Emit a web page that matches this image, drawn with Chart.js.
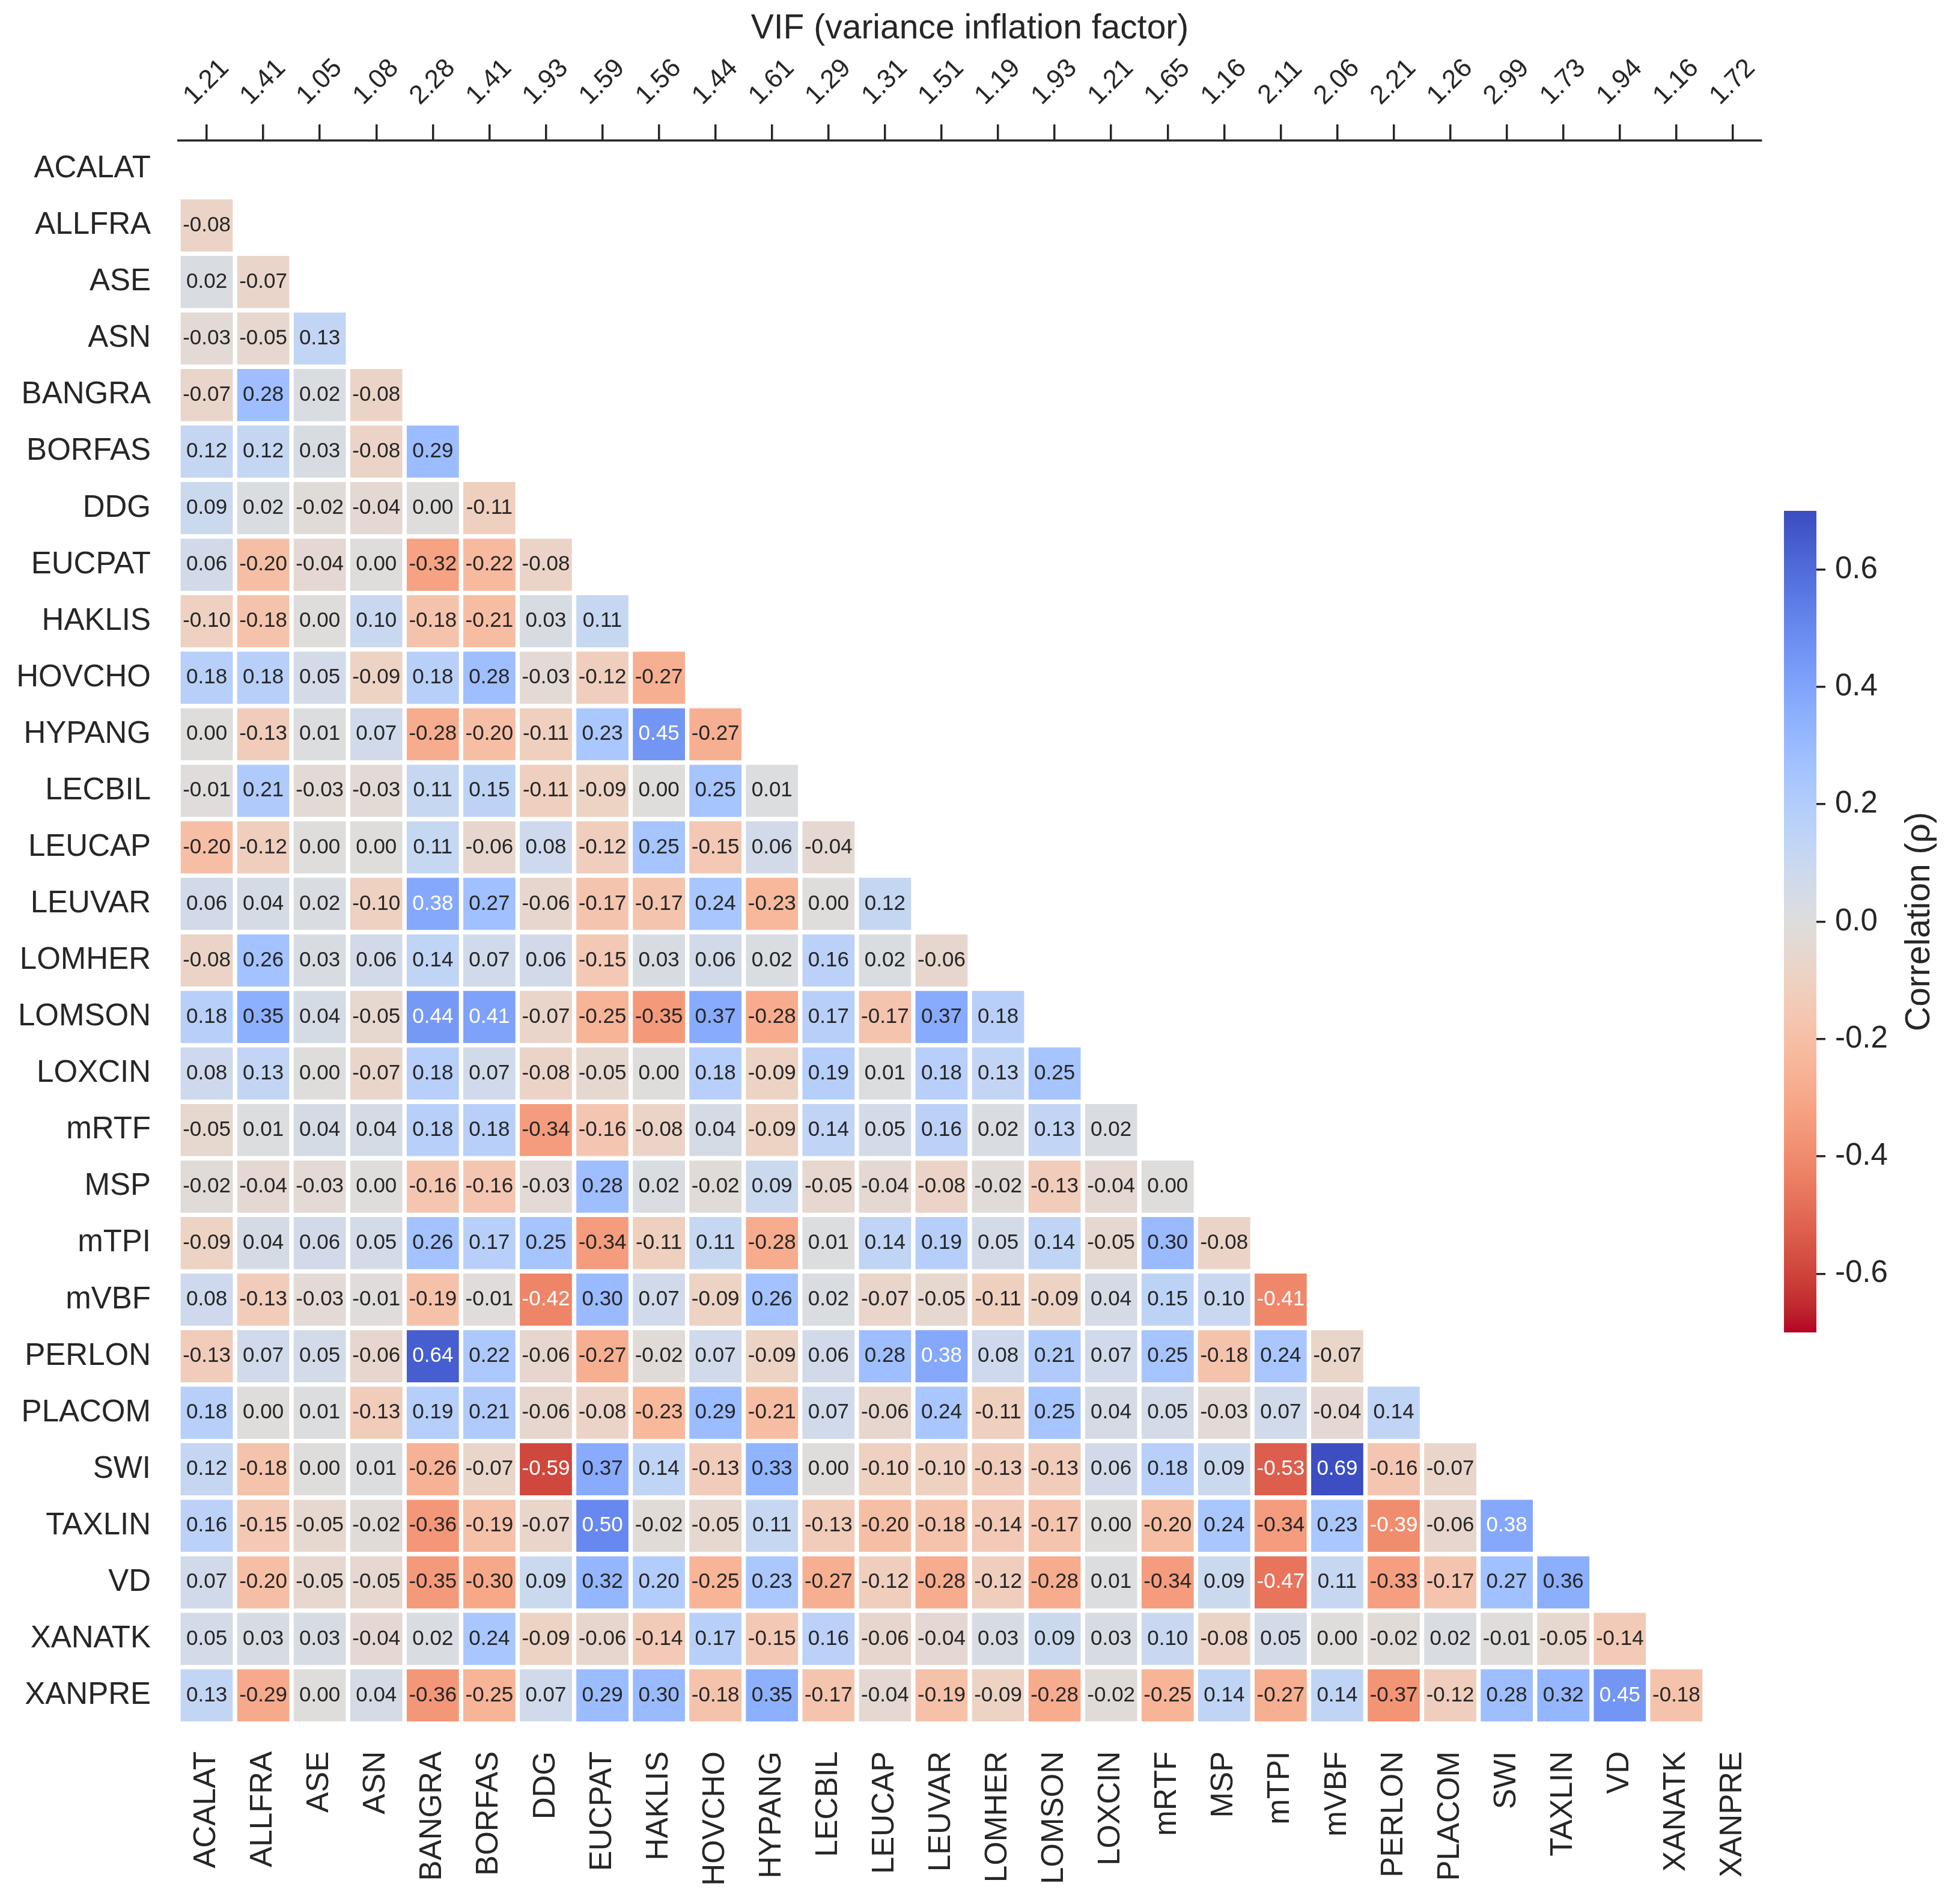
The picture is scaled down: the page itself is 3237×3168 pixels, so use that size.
<!DOCTYPE html>
<html>
<head>
<meta charset="utf-8">
<title>Correlation heatmap with VIF</title>
<script src="https://cdn.jsdelivr.net/npm/chart.js@4.4.1/dist/chart.umd.min.js"></script>
<style>
  html, body { margin: 0; padding: 0; background: #fff; overflow: hidden; }
  #main { position: absolute; left: 0; top: 0; width: 3237px; height: 3168px; }
  #cbar { position: absolute; left: 2900px; top: 0; width: 337px; height: 3168px; }
</style>
</head>
<body>
<div id="main"><canvas id="heat"></canvas></div>
<div id="cbar"><canvas id="scale"></canvas></div>
<script>
// variables, in matrix order
const VARS = ["ACALAT", "ALLFRA", "ASE", "ASN", "BANGRA", "BORFAS", "DDG", "EUCPAT", "HAKLIS",
  "HOVCHO", "HYPANG", "LECBIL", "LEUCAP", "LEUVAR", "LOMHER", "LOMSON", "LOXCIN", "mRTF", "MSP",
  "mTPI", "mVBF", "PERLON", "PLACOM", "SWI", "TAXLIN", "VD", "XANATK", "XANPRE"];

// variance inflation factor per variable (top axis)
const VIF = [1.21, 1.41, 1.05, 1.08, 2.28, 1.41, 1.93, 1.59, 1.56, 1.44, 1.61, 1.29, 1.31, 1.51,
  1.19, 1.93, 1.21, 1.65, 1.16, 2.11, 2.06, 2.21, 1.26, 2.99, 1.73, 1.94, 1.16, 1.72];

// lower triangle of the correlation matrix, one array per row
const R_ALLFRA = [-0.08];
const R_ASE = [0.02, -0.07];
const R_ASN = [-0.03, -0.05, 0.13];
const R_BANGRA = [-0.07, 0.28, 0.02, -0.08];
const R_BORFAS = [0.12, 0.12, 0.03, -0.08, 0.29];
const R_DDG = [0.09, 0.02, -0.02, -0.04, 0.00, -0.11];
const R_EUCPAT = [0.06, -0.20, -0.04, 0.00, -0.32, -0.22, -0.08];
const R_HAKLIS = [-0.10, -0.18, 0.00, 0.10, -0.18, -0.21, 0.03, 0.11];
const R_HOVCHO = [0.18, 0.18, 0.05, -0.09, 0.18, 0.28, -0.03, -0.12, -0.27];
const R_HYPANG = [0.00, -0.13, 0.01, 0.07, -0.28, -0.20, -0.11, 0.23, 0.45, -0.27];
const R_LECBIL = [-0.01, 0.21, -0.03, -0.03, 0.11, 0.15, -0.11, -0.09, 0.00, 0.25, 0.01];
const R_LEUCAP = [-0.20, -0.12, 0.00, 0.00, 0.11, -0.06, 0.08, -0.12, 0.25, -0.15, 0.06, -0.04];
const R_LEUVAR = [0.06, 0.04, 0.02, -0.10, 0.38, 0.27, -0.06, -0.17, -0.17, 0.24, -0.23, 0.00, 0.12];
const R_LOMHER = [-0.08, 0.26, 0.03, 0.06, 0.14, 0.07, 0.06, -0.15, 0.03, 0.06, 0.02, 0.16, 0.02, -0.06];
const R_LOMSON = [0.18, 0.35, 0.04, -0.05, 0.44, 0.41, -0.07, -0.25, -0.35, 0.37, -0.28, 0.17, -0.17,
  0.37, 0.18];
const R_LOXCIN = [0.08, 0.13, 0.00, -0.07, 0.18, 0.07, -0.08, -0.05, 0.00, 0.18, -0.09, 0.19, 0.01,
  0.18, 0.13, 0.25];
const R_MRTF = [-0.05, 0.01, 0.04, 0.04, 0.18, 0.18, -0.34, -0.16, -0.08, 0.04, -0.09, 0.14, 0.05,
  0.16, 0.02, 0.13, 0.02];
const R_MSP = [-0.02, -0.04, -0.03, 0.00, -0.16, -0.16, -0.03, 0.28, 0.02, -0.02, 0.09, -0.05, -0.04,
  -0.08, -0.02, -0.13, -0.04, 0.00];
const R_MTPI = [-0.09, 0.04, 0.06, 0.05, 0.26, 0.17, 0.25, -0.34, -0.11, 0.11, -0.28, 0.01, 0.14,
  0.19, 0.05, 0.14, -0.05, 0.30, -0.08];
const R_MVBF = [0.08, -0.13, -0.03, -0.01, -0.19, -0.01, -0.42, 0.30, 0.07, -0.09, 0.26, 0.02, -0.07,
  -0.05, -0.11, -0.09, 0.04, 0.15, 0.10, -0.41];
const R_PERLON = [-0.13, 0.07, 0.05, -0.06, 0.64, 0.22, -0.06, -0.27, -0.02, 0.07, -0.09, 0.06, 0.28,
  0.38, 0.08, 0.21, 0.07, 0.25, -0.18, 0.24, -0.07];
const R_PLACOM = [0.18, 0.00, 0.01, -0.13, 0.19, 0.21, -0.06, -0.08, -0.23, 0.29, -0.21, 0.07, -0.06,
  0.24, -0.11, 0.25, 0.04, 0.05, -0.03, 0.07, -0.04, 0.14];
const R_SWI = [0.12, -0.18, 0.00, 0.01, -0.26, -0.07, -0.59, 0.37, 0.14, -0.13, 0.33, 0.00, -0.10,
  -0.10, -0.13, -0.13, 0.06, 0.18, 0.09, -0.53, 0.69, -0.16, -0.07];
const R_TAXLIN = [0.16, -0.15, -0.05, -0.02, -0.36, -0.19, -0.07, 0.50, -0.02, -0.05, 0.11, -0.13,
  -0.20, -0.18, -0.14, -0.17, 0.00, -0.20, 0.24, -0.34, 0.23, -0.39, -0.06, 0.38];
const R_VD = [0.07, -0.20, -0.05, -0.05, -0.35, -0.30, 0.09, 0.32, 0.20, -0.25, 0.23, -0.27, -0.12,
  -0.28, -0.12, -0.28, 0.01, -0.34, 0.09, -0.47, 0.11, -0.33, -0.17, 0.27, 0.36];
const R_XANATK = [0.05, 0.03, 0.03, -0.04, 0.02, 0.24, -0.09, -0.06, -0.14, 0.17, -0.15, 0.16, -0.06,
  -0.04, 0.03, 0.09, 0.03, 0.10, -0.08, 0.05, 0.00, -0.02, 0.02, -0.01, -0.05, -0.14];
const R_XANPRE = [0.13, -0.29, 0.00, 0.04, -0.36, -0.25, 0.07, 0.29, 0.30, -0.18, 0.35, -0.17, -0.04,
  -0.19, -0.09, -0.28, -0.02, -0.25, 0.14, -0.27, 0.14, -0.37, -0.12, 0.28, 0.32, 0.45, -0.18];

const LOWER = [[], R_ALLFRA, R_ASE, R_ASN, R_BANGRA, R_BORFAS, R_DDG, R_EUCPAT, R_HAKLIS, R_HOVCHO,
  R_HYPANG, R_LECBIL, R_LEUCAP, R_LEUVAR, R_LOMHER, R_LOMSON, R_LOXCIN, R_MRTF, R_MSP, R_MTPI,
  R_MVBF, R_PERLON, R_PLACOM, R_SWI, R_TAXLIN, R_VD, R_XANATK, R_XANPRE];

// colour scale limits and colorbar ticks
const VMIN = -0.7;
const VMAX = 0.7;
const CBAR_TICKS = [-0.6, -0.4, -0.2, 0.0, 0.2, 0.4, 0.6];

// coolwarm control points (blue -> grey -> red); used reversed so positive is blue
const COOLWARM = [
  [59, 76, 192], [68, 90, 204], [77, 104, 215], [87, 117, 225], [98, 130, 234], [108, 142, 241],
  [119, 154, 247], [130, 165, 251], [141, 176, 254], [152, 185, 255], [163, 194, 255], [174, 201, 253],
  [184, 208, 249], [194, 213, 244], [204, 217, 238], [213, 219, 230], [221, 221, 221], [229, 216, 209],
  [236, 211, 197], [241, 204, 185], [245, 196, 173], [247, 187, 160], [247, 177, 148], [247, 166, 135],
  [244, 154, 123], [241, 141, 111], [236, 127, 99], [229, 112, 88], [222, 96, 77], [213, 80, 66],
  [203, 62, 56], [192, 40, 47], [180, 4, 38]];

const INK = "#262626";
const FONT = '"Liberation Sans", Arial, Helvetica, sans-serif';
Chart.defaults.font.family = FONT;
Chart.defaults.color = INK;

function sampleCoolwarm(t) {
  // 256-level lookup like a matplotlib colormap
  const k = Math.min(255, Math.max(0, Math.floor(t * 256))) / 255;
  const pos = k * (COOLWARM.length - 1);
  const i = Math.min(COOLWARM.length - 2, Math.floor(pos));
  const f = pos - i;
  return COOLWARM[i].map((c, n) => c + (COOLWARM[i + 1][n] - c) * f);
}

function cellRgb(v) {
  return sampleCoolwarm((VMAX - v) / (VMAX - VMIN));
}

function css(rgb) {
  return `rgb(${rgb.map((c) => Math.round(c)).join(",")})`;
}

function luminance(rgb) {
  const lin = (c) => {
    c /= 255;
    return c <= 0.03928 ? c / 12.92 : Math.pow((c + 0.055) / 1.055, 2.4);
  };
  return 0.2126 * lin(rgb[0]) + 0.7152 * lin(rgb[1]) + 0.0722 * lin(rgb[2]);
}

// number printed in each cell, dark or white depending on cell brightness
const cellLabels = {
  id: "cellLabels",
  afterDatasetsDraw(chart) {
    const { ctx } = chart;
    ctx.save();
    ctx.font = `35px ${FONT}`;
    ctx.textAlign = "center";
    ctx.textBaseline = "middle";
    chart.data.datasets.forEach((ds, di) => {
      const meta = chart.getDatasetMeta(di);
      meta.data.forEach((bar, j) => {
        const v = ds.corr[j];
        if (v === undefined) return;
        const { x, y, base } = bar.getProps(["x", "y", "base"], true);
        ctx.fillStyle = luminance(cellRgb(v)) > 0.408 ? INK : "#ffffff";
        ctx.fillText(v.toFixed(2), x, (y + base) / 2);
      });
    });
    ctx.restore();
  },
};

// VIF tick labels on the top axis, rotated 45 degrees and centred over each tick
const vifLabels = {
  id: "vifLabels",
  afterDraw(chart) {
    const scale = chart.scales.x2;
    const { ctx } = chart;
    ctx.save();
    ctx.font = `44px ${FONT}`;
    ctx.fillStyle = INK;
    ctx.textAlign = "center";
    ctx.textBaseline = "middle";
    scale.ticks.forEach((t, i) => {
      ctx.save();
      ctx.translate(scale.getPixelForTick(i), scale.bottom - 97);
      ctx.rotate(-Math.PI / 4);
      ctx.fillText(scale.getLabelForValue(t.value), 0, 0);
      ctx.restore();
    });
    ctx.restore();
  },
};

const datasets = LOWER.slice(1).map((vals, k) => {
  const row = k + 1;
  return {
    label: VARS[row],
    corr: vals,
    data: VARS.map((_, j) => (j < vals.length ? [row, row + 1] : null)),
    backgroundColor: (c) => {
      const v = vals[c.dataIndex];
      return v === undefined ? "rgba(0,0,0,0)" : css(cellRgb(v));
    },
  };
});

new Chart(document.getElementById("heat"), {
  type: "bar",
  data: { labels: VARS, datasets },
  plugins: [cellLabels, vifLabels],
  options: {
    responsive: true,
    maintainAspectRatio: false,
    animation: false,
    events: [],
    layout: { padding: { left: 0, right: 306, top: 0, bottom: 0 } },
    datasets: {
      bar: {
        grouped: false,
        barPercentage: 1,
        categoryPercentage: 1,
        borderWidth: 4,
        borderColor: "#ffffff",
        borderSkipped: false,
      },
    },
    plugins: {
      legend: { display: false },
      tooltip: { enabled: false },
      title: {
        display: true,
        fullSize: false,
        text: "VIF (variance inflation factor)",
        color: INK,
        font: { size: 57, weight: "normal" },
        padding: { top: 14, bottom: 0 },
      },
    },
    scales: {
      x: {
        type: "category",
        position: "bottom",
        border: { display: false },
        grid: { display: false, drawTicks: false },
        ticks: { font: { size: 51 }, color: INK, padding: 46, minRotation: 90, maxRotation: 90, autoSkip: false },
        afterFit: (s) => { s.height = 300; },
      },
      x2: {
        type: "category",
        position: "top",
        labels: VIF.map((v) => v.toFixed(2)),
        offset: true,
        border: { display: true, color: INK, width: 3.5 },
        grid: { offset: false, drawOnChartArea: false, drawTicks: true, tickLength: 27, lineWidth: 3.5, color: INK },
        ticks: { display: false, autoSkip: false },
        afterFit: (s) => { s.height = 234 - 82.4; },
      },
      y: {
        type: "linear",
        reverse: true,
        min: 0,
        max: VARS.length,
        border: { display: false },
        grid: { display: false, drawTicks: false },
        afterBuildTicks: (s) => { s.ticks = VARS.map((_, i) => ({ value: i + 0.5 })); },
        ticks: { font: { size: 51 }, color: INK, padding: 46, autoSkip: false, callback: (v, i) => VARS[i] },
        afterFit: (s) => { s.width = 297; },
      },
    },
  },
});

// colorbar: one floating bar spanning the value range, filled with the colormap
function colormapFill(c) {
  const chart = c.chart;
  const y = chart.scales.y;
  if (!chart.chartArea || !y) return css(COOLWARM[16]);
  const g = chart.ctx.createLinearGradient(0, y.getPixelForValue(VMAX), 0, y.getPixelForValue(VMIN));
  COOLWARM.forEach((rgb, k) => g.addColorStop(k / (COOLWARM.length - 1), css(rgb)));
  return g;
}

const cbarLabel = {
  id: "cbarLabel",
  afterDraw(chart) {
    const { ctx, chartArea } = chart;
    ctx.save();
    ctx.translate(chartArea.right + 172, (chartArea.top + chartArea.bottom) / 2);
    ctx.rotate(-Math.PI / 2);
    ctx.font = `57px ${FONT}`;
    ctx.fillStyle = INK;
    ctx.textAlign = "center";
    ctx.textBaseline = "middle";
    ctx.fillText("Correlation (\u03c1)", 0, 0);
    ctx.restore();
  },
};

new Chart(document.getElementById("scale"), {
  type: "bar",
  data: {
    labels: [""],
    datasets: [{ data: [[VMIN, VMAX]], backgroundColor: colormapFill, borderWidth: 0, barPercentage: 1, categoryPercentage: 1 }],
  },
  plugins: [cbarLabel],
  options: {
    responsive: true,
    maintainAspectRatio: false,
    animation: false,
    events: [],
    layout: { padding: { left: 69, right: 0, top: 850, bottom: 951 } },
    plugins: { legend: { display: false }, tooltip: { enabled: false } },
    scales: {
      x: { display: false },
      y: {
        position: "right",
        min: VMIN,
        max: VMAX,
        border: { display: false },
        grid: { drawOnChartArea: false, drawTicks: true, tickLength: 15, lineWidth: 3.5, color: INK },
        afterBuildTicks: (s) => { s.ticks = CBAR_TICKS.map((v) => ({ value: v })); },
        ticks: { font: { size: 51 }, color: INK, padding: 16, callback: (v) => v.toFixed(1) },
        afterFit: (s) => { s.width = 214; },
      },
    },
  },
});
</script>
</body>
</html>
